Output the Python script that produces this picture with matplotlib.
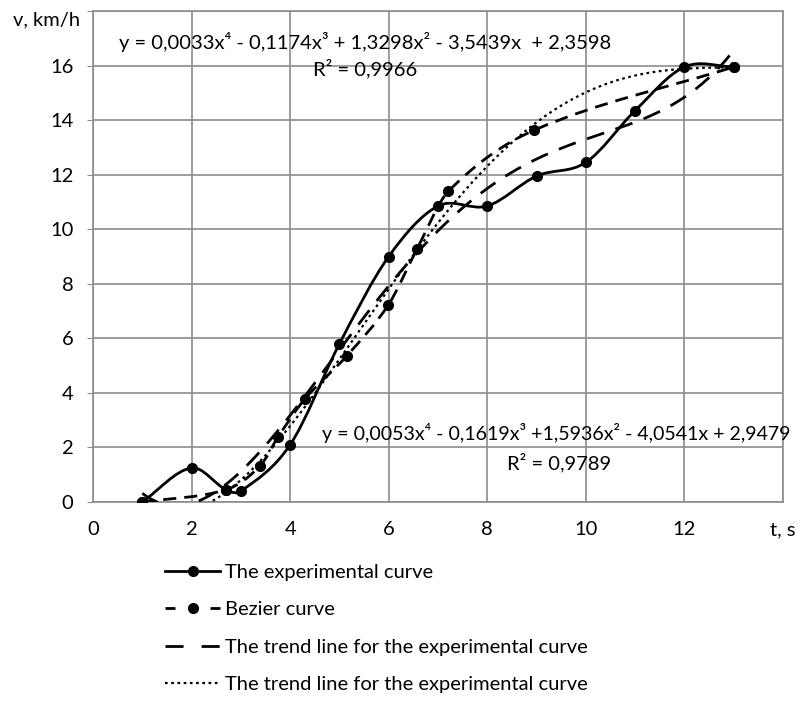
import numpy as np
import matplotlib
matplotlib.use('Agg')
import matplotlib.pyplot as plt
from matplotlib.path import Path
from matplotlib.patches import PathPatch
from matplotlib.lines import Line2D

plt.rcParams['font.family'] = ['Lato', 'DejaVu Sans']

# ---- data ----
t_exp = [1, 2, 2.7, 3, 4, 5, 6, 7, 8, 9, 10, 11, 12, 13]
v_exp = [0, 1.25, 0.45, 0.4, 2.1, 5.8, 9.0, 10.85, 10.85, 11.95, 12.45, 14.35, 15.95, 15.95]
t_bez = [1, 2.7, 3.39, 3.76, 4.3, 5.15, 5.99, 6.57, 7.21, 8.95, 13]
v_bez = [0, 0.45, 1.32, 2.4, 3.78, 5.36, 7.22, 9.26, 11.39, 13.63, 15.95]
x_ticks = [0, 2, 4, 6, 8, 10, 12, 14]
x_labels = ['0', '2', '4', '6', '8', '10', '12', 't, s']
y_ticks = [0, 2, 4, 6, 8, 10, 12, 14, 16]
labels = ['The experimental curve', 'Bezier curve',
          'The trend line for the experimental curve',
          'The trend line for the experimental curve']
eq_top = 'y = 0,0033x\u2074 - 0,1174x\u00b3 + 1,3298x\u00b2 - 3,5439x  + 2,3598'
r2_top = 'R\u00b2 = 0,9966'
eq_bot = 'y = 0,0053x\u2074 - 0,1619x\u00b3 +1,5936x\u00b2 - 4,0541x + 2,9479'
r2_bot = 'R\u00b2 = 0,9789'


def smooth_path(x, y):
    x = np.asarray(x, float)
    y = np.asarray(y, float)
    n = len(x)
    m = np.empty(n)
    m[0] = (y[1] - y[0]) / (x[1] - x[0])
    m[-1] = (y[-1] - y[-2]) / (x[-1] - x[-2])
    m[1:-1] = (y[2:] - y[:-2]) / (x[2:] - x[:-2])
    verts = [(x[0], y[0])]
    codes = [Path.MOVETO]
    for i in range(n - 1):
        h = x[i + 1] - x[i]
        verts += [(x[i] + h / 3, y[i] + m[i] * h / 3),
                  (x[i + 1] - h / 3, y[i + 1] - m[i + 1] * h / 3),
                  (x[i + 1], y[i + 1])]
        codes += [Path.CURVE4] * 3
    return Path(verts, codes)


W, H = 801, 702
fig = plt.figure(figsize=(W / 100, H / 100), dpi=100)
L, R, T, B = 93, 783, 11, 502
ax = fig.add_axes([L / W, 1 - B / H, (R - L) / W, (B - T) / H])
ax.set_xlim(0, 14)
ax.set_ylim(0, 18)

grid_c = '#8c8c8c'
ax.set_xticks(x_ticks)
ax.set_yticks(y_ticks + [18])
ax.grid(True, color=grid_c, lw=1.2)
ax.set_axisbelow(True)
for s in ax.spines.values():
    s.set_color(grid_c)
    s.set_linewidth(1.2)
ax.set_xticklabels(x_labels, fontsize=14.5)
ax.set_yticklabels([str(v) for v in y_ticks] + [''], fontsize=14.5)
ax.tick_params(axis='x', length=0, pad=14)
ax.tick_params(axis='y', length=4, color=grid_c, pad=10)

lw = 2.0
# experimental curve
p1 = PathPatch(smooth_path(t_exp, v_exp), fill=False, ec='black', lw=lw, zorder=4)
ax.add_patch(p1)
ax.plot(t_exp, v_exp, 'o', color='black', ms=7, zorder=5)

# bezier curve
p2 = PathPatch(smooth_path(t_bez, v_bez), fill=False, ec='black', lw=lw,
               linestyle=(0, (4.7, 2.9)), zorder=4)
p2.set_capstyle('butt')
ax.add_patch(p2)
ax.plot(t_bez, v_bez, 'o', color='black', ms=7, zorder=5)

# trend lines (4th order polynomial fits, as in the source chart)
xf = np.linspace(1, 13, 300)
c_exp = np.polyfit(t_exp, v_exp, 4)
c_bez = np.polyfit(t_bez, v_bez, 4)
ax.plot(xf, np.polyval(c_exp, xf), color='black', lw=lw,
        linestyle=(0, (6.5, 4.3)), dash_capstyle='butt', zorder=3)
ax.plot(xf, np.polyval(c_bez, xf), color='black', lw=1.6,
        linestyle=(0, (1.2, 1.6)), dash_capstyle='butt', zorder=3)

fig.text(80 / W, 1 - 20 / H, 'v, km/h', ha='right', va='center', fontsize=14.5)

fig.text(365 / W, 1 - 42 / H, eq_top, ha='center', va='center', fontsize=14.5)
fig.text(365 / W, 1 - 69 / H, r2_top, ha='center', va='center', fontsize=14.5)
fig.text(556 / W, 1 - 433 / H, eq_bot, ha='center', va='center', fontsize=14.1)
fig.text(559 / W, 1 - 463 / H, r2_bot, ha='center', va='center', fontsize=14.5)

handles = [
    Line2D([], [], color='black', lw=lw, marker='o', ms=7),
    Line2D([], [], color='black', lw=lw, marker='o', ms=7,
           linestyle=(0, (3.6, 12.6)), dash_capstyle='butt'),
    Line2D([], [], color='black', lw=lw, linestyle=(0, (6.5, 6.5)),
           dash_capstyle='butt'),
    Line2D([], [], color='black', lw=1.6, linestyle=(0, (1.2, 1.6)),
           dash_capstyle='butt'),
]
leg = fig.legend(handles, labels, loc='upper left',
                 bbox_to_anchor=(165 / W, 1 - 564 / H), frameon=False,
                 fontsize=14.5, handlelength=2.75, handletextpad=0.25,
                 labelspacing=1.0, borderpad=0, borderaxespad=0)

fig.savefig('out.png', dpi=100)
